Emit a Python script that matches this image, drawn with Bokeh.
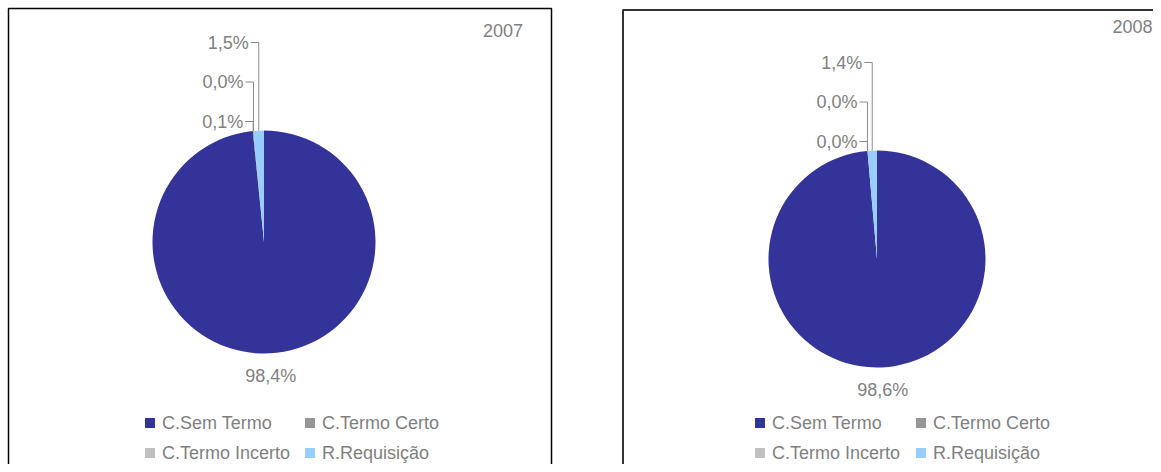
import math
from bokeh.plotting import figure
from bokeh.models import Range1d, ColumnDataSource
from bokeh.embed import file_html
from bokeh.resources import INLINE
from bokeh.core.properties import value

# ---- data ----
categories = ["C.Sem Termo", "C.Termo Certo", "C.Termo Incerto", "R.Requisição"]
colors = ["#333399", "#969696", "#C0C0C0", "#99CCFF"]
years = ["2007", "2008"]
values_2007 = [98.4, 0.1, 0.0, 1.5]
values_2008 = [98.6, 0.0, 0.0, 1.4]

FONT = value("Liberation Sans")
TXT = "#7f7f7f"
W, H = 1153, 464


def Y(sy):
    # convert a picture y (pixels from top) to data y
    return H - sy


p = figure(width=W, height=H, x_range=Range1d(0, W), y_range=Range1d(0, H),
           output_backend="svg", toolbar_location=None, min_border=0)
p.axis.visible = False
p.grid.visible = False
p.outline_line_color = None
p.background_fill_color = "white"
p.border_fill_color = "white"

# panel frames
p.quad(left=[8], right=[551], top=[Y(8)], bottom=[-200], fill_color=None,
       line_color="#000000", line_width=1.5)
p.quad(left=[622.5], right=[1400], top=[Y(9.5)], bottom=[-200], fill_color=None,
       line_color="#333333", line_width=2)

panels = [
    dict(year=years[0], vals=values_2007, cx=263.5, cy=241.5, r=111.5, yx=522.5, yy=30,
         lx=[-114, 46]),
    dict(year=years[1], vals=values_2008, cx=876.5, cy=258.5, r=108.5, yx=1152, yy=26,
         lx=[-117, 44]),
]

label_lift = {1: 9, 2: 48.5, 3: 88}


def fmt(v):
    return f"{v:.1f}".replace(".", ",") + "%"


for pn in panels:
    cx, cy, r = pn["cx"], Y(pn["cy"]), pn["r"]
    vals = pn["vals"]
    total = sum(vals)
    starts, ends, cols = [], [], []
    allmids = []
    cum = 0.0
    for v, c in zip(vals, colors):
        f = v / total
        allmids.append(math.pi / 2 - 2 * math.pi * (cum + f / 2))
        if v > 0:
            starts.append(math.pi / 2 - 2 * math.pi * cum)
            ends.append(math.pi / 2 - 2 * math.pi * (cum + f))
            cols.append(c)
        cum += f
    n = len(starts)
    src = ColumnDataSource(dict(start=starts, end=ends, color=cols,
                                x=[cx] * n, y=[cy] * n))
    p.wedge(x="x", y="y", radius=r, start_angle="start", end_angle="end",
            direction="clock", fill_color="color", line_color=None, source=src)

    # big slice label
    m = allmids[0]
    p.text(x=[cx + (r + 23) * math.cos(m)], y=[cy + (r + 23) * math.sin(m)],
           text=[fmt(vals[0])], text_font=FONT, text_font_size="18px",
           text_color=TXT, text_align="center", text_baseline="middle")

    # small slice labels with leader lines
    top = cy + r
    for i in (1, 2, 3):
        m = allmids[i]
        ex = cx + r * math.cos(m)
        ey = cy + r * math.sin(m)
        ly = top + label_lift[i]
        p.line(x=[ex, ex, ex - 8], y=[ey, ly, ly], line_color="#8c8c8c", line_width=1)
        p.text(x=[ex - 10], y=[ly], text=[fmt(vals[i])], text_font=FONT,
               text_font_size="18px", text_color=TXT, text_align="right",
               text_baseline="middle")

    # year
    p.text(x=[pn["yx"]], y=[Y(pn["yy"])], text=[pn["year"]], text_font=FONT,
           text_font_size="18px", text_color=TXT, text_align="right",
           text_baseline="middle")

    # legend (2 x 2)
    rows = [Y(422.5), Y(452.5)]
    for k, cat in enumerate(categories):
        col = k % 2
        row = k // 2
        sx = cx + pn["lx"][col]
        sy = rows[row]
        p.rect(x=[sx], y=[sy], width=10, height=10, fill_color=colors[k], line_color=None)
        p.text(x=[sx + 12], y=[sy], text=[cat], text_font=FONT, text_font_size="18px",
               text_color=TXT, text_align="left", text_baseline="middle")

open("out.html", "w").write(file_html(p, INLINE))
